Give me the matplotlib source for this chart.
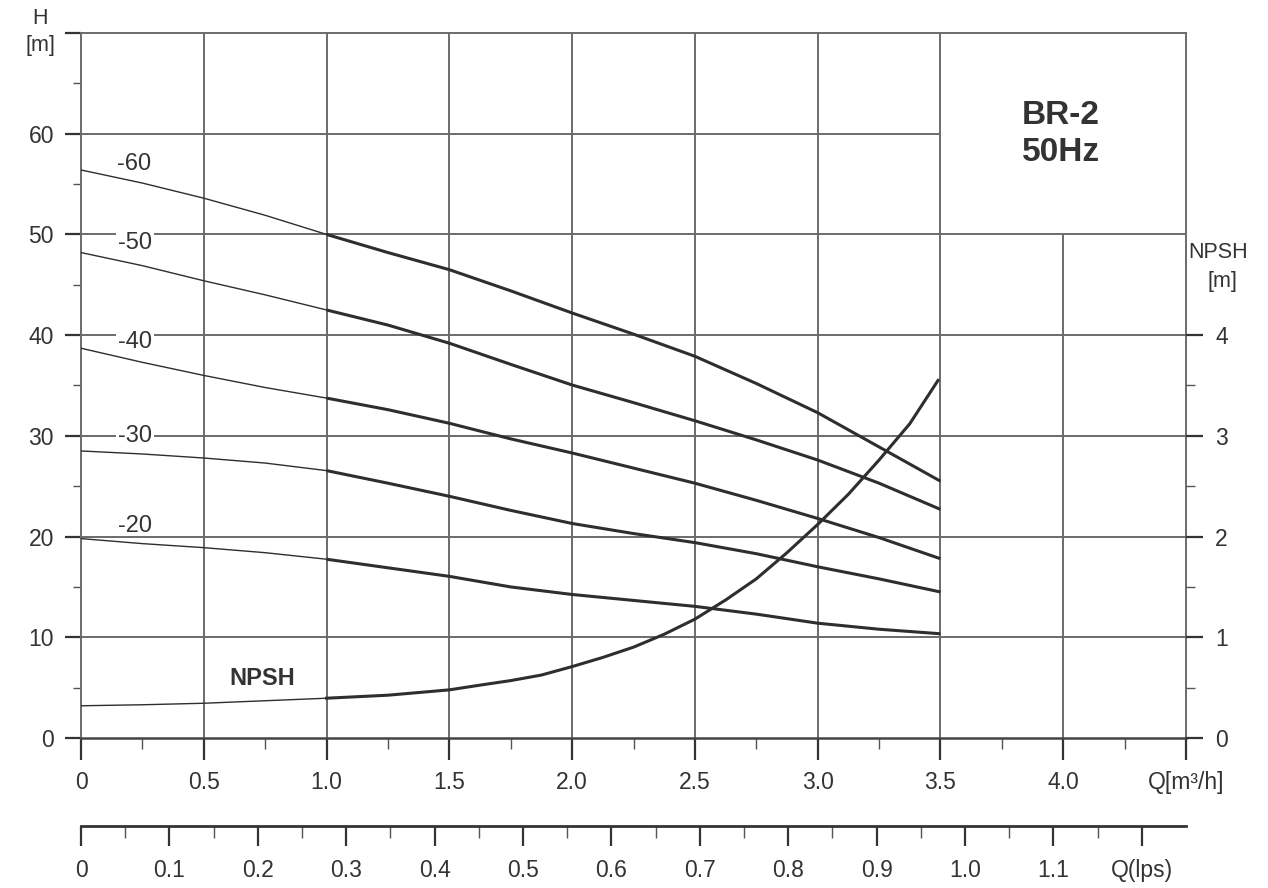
import numpy as np
import matplotlib
matplotlib.use('Agg')
import matplotlib.pyplot as plt

plt.rcParams['font.family'] = ['Liberation Sans', 'DejaVu Sans']

TXT = '#333333'
GRID = '#6b6b6b'
CURVE = '#2e2e2e'

# flow points (m3/h) where the head curves were read
q_m3h = [0, 0.25, 0.5, 0.75, 1.0, 1.25, 1.5, 1.75, 2.0, 2.25, 2.5, 2.75, 3.0, 3.25, 3.5]

# head (m) per model
head_60 = [56.4, 55.1, 53.6, 51.9, 50.0, 48.2, 46.5, 44.4, 42.2, 40.1, 37.9, 35.2, 32.3, 28.9, 25.5]
head_50 = [48.2, 46.9, 45.4, 44.0, 42.5, 41.0, 39.2, 37.1, 35.05, 33.3, 31.5, 29.6, 27.6, 25.3, 22.7]
head_40 = [38.7, 37.3, 36.0, 34.8, 33.75, 32.6, 31.25, 29.7, 28.3, 26.8, 25.3, 23.6, 21.8, 19.9, 17.8]
head_30 = [28.5, 28.2, 27.8, 27.3, 26.55, 25.3, 24.0, 22.6, 21.3, 20.3, 19.4, 18.3, 17.0, 15.8, 14.5]
head_20 = [19.8, 19.3, 18.9, 18.4, 17.75, 16.9, 16.05, 15.0, 14.25, 13.66, 13.07, 12.3, 11.4, 10.8, 10.35]

models = ['-60', '-50', '-40', '-30', '-20']
heads = [head_60, head_50, head_40, head_30, head_20]
label_pos = [(0.147, 57.0), (0.15, 49.1), (0.15, 39.3), (0.15, 30.0), (0.15, 21.0)]

# NPSH curve (m)
q_npsh = [0, 0.25, 0.5, 0.75, 1.0, 1.25, 1.5, 1.625, 1.75, 1.875, 2.0, 2.125, 2.25,
          2.375, 2.5, 2.625, 2.75, 2.875, 3.0, 3.125, 3.25, 3.375, 3.49]
npsh = [0.32, 0.33, 0.345, 0.37, 0.395, 0.425, 0.478, 0.525, 0.57, 0.625, 0.709, 0.80, 0.902,
        1.03, 1.18, 1.37, 1.58, 1.84, 2.12, 2.42, 2.76, 3.12, 3.55]

q_ticks = [0, 0.5, 1.0, 1.5, 2.0, 2.5, 3.0, 3.5, 4.0, 4.5]
q_ticklabels = ['0', '0.5', '1.0', '1.5', '2.0', '2.5', '3.0', '3.5', '4.0', 'Q[m³/h]']
lps_ticks = [0, 0.1, 0.2, 0.3, 0.4, 0.5, 0.6, 0.7, 0.8, 0.9, 1.0, 1.1, 1.2]
lps_ticklabels = ['0', '0.1', '0.2', '0.3', '0.4', '0.5', '0.6', '0.7', '0.8', '0.9', '1.0', '1.1', 'Q(lps)']

W, H = 1268, 888
fig = plt.figure(figsize=(W / 100, H / 100), dpi=100)
L, R = 81 / W, 1186 / W
ax = fig.add_axes([L, 1 - 738 / H, R - L, (738 - 33) / H])
ax.set_xlim(0, 4.5)
ax.set_ylim(0, 70)

# grid, drawn by hand because the lines stop short around the title box
ax.vlines([0.5, 1.0, 1.5, 2.0, 2.5, 3.0, 3.5], 0, 70, color=GRID, lw=1.4, zorder=1)
ax.vlines([4.0], 0, 50, color=GRID, lw=1.4, zorder=1)
ax.hlines([10, 20, 30, 40, 50], 0, 4.5, color=GRID, lw=1.4, zorder=1)
ax.hlines([60], 0, 3.5, color=GRID, lw=1.4, zorder=1)

for s in ax.spines.values():
    s.set_color(GRID)
    s.set_linewidth(1.4)
ax.spines['bottom'].set_color('#444444')
ax.spines['bottom'].set_linewidth(1.8)

ax.set_yticks(range(0, 71, 10))
ax.set_yticklabels(['0', '10', '20', '30', '40', '50', '60', ''])
ax.set_yticks(range(5, 70, 10), minor=True)
ax.set_xticks(q_ticks)
ax.set_xticklabels(q_ticklabels)
ax.set_xticks(np.arange(0.25, 4.5, 0.5), minor=True)
ax.tick_params(axis='y', which='major', length=11.5, width=1.6, color='#333333',
               labelsize=16.5, labelcolor=TXT, pad=8)
ax.tick_params(axis='y', which='minor', length=6, width=1.0, color='#555555')
ax.tick_params(axis='x', which='major', length=16, width=1.6, color='#333333',
               labelsize=16.5, labelcolor=TXT, pad=8)
ax.tick_params(axis='x', which='minor', length=8, width=1.0, color='#555555')

q = np.array(q_m3h)
for name, h, (tx, ty) in zip(models, heads, label_pos):
    h = np.array(h)
    lo = q <= 1.0
    hi = q >= 1.0
    ax.plot(q[lo], h[lo], color=CURVE, lw=1.0, zorder=3)
    ax.plot(q[hi], h[hi], color=CURVE, lw=2.2, zorder=3, solid_capstyle='butt')
    box = None
    if name in ('-50', '-40', '-30'):
        box = dict(facecolor='white', edgecolor='none', pad=1.5)
    ax.text(tx, ty, name, fontsize=17, color=TXT, ha='left', va='center', bbox=box, zorder=4)

ax.text(0.74, 5.9, 'NPSH', fontsize=17, fontweight='bold', color=TXT, ha='center', va='center')
ax.text(3.99, 61.8, 'BR-2', fontsize=24, fontweight='bold', color=TXT, ha='center', va='center')
ax.text(3.99, 58.1, '50Hz', fontsize=24, fontweight='bold', color=TXT, ha='center', va='center')

# NPSH scale on the right
axr = ax.twinx()
axr.set_ylim(0, 7)
for s in axr.spines.values():
    s.set_visible(False)
axr.set_yticks([0, 1, 2, 3, 4])
axr.set_yticks([0.5, 1.5, 2.5, 3.5], minor=True)
axr.tick_params(axis='y', which='major', length=12, width=1.6, color='#333333',
                labelsize=16.5, labelcolor=TXT, pad=9)
axr.tick_params(axis='y', which='minor', length=6.5, width=1.0, color='#555555')
qn = np.array(q_npsh)
nv = np.array(npsh)
axr.plot(qn[qn <= 1.0], nv[qn <= 1.0], color=CURVE, lw=1.0, zorder=3)
axr.plot(qn[qn >= 1.0], nv[qn >= 1.0], color=CURVE, lw=2.2, zorder=3)

fig.text(40 / W, 1 - 18 / H, 'H', fontsize=15.5, color=TXT, ha='center', va='center')
fig.text(40 / W, 1 - 45 / H, '[m]', fontsize=15.5, color=TXT, ha='center', va='center')
fig.text(1218 / W, 1 - 252 / H, 'NPSH', fontsize=15.5, color=TXT, ha='center', va='center')
fig.text(1222 / W, 1 - 281 / H, '[m]', fontsize=15.5, color=TXT, ha='center', va='center')

# second flow scale in litres per second
axq = fig.add_axes([L, 1 - 826 / H, R - L, 0.02])
axq.patch.set_visible(False)
axq.set_xlim(0, 4.5 / 3.6)
for k in ('top', 'left', 'right'):
    axq.spines[k].set_visible(False)
axq.spines['bottom'].set_color('#333333')
axq.spines['bottom'].set_linewidth(2.0)
axq.set_yticks([])
axq.set_xticks(lps_ticks)
axq.set_xticklabels(lps_ticklabels)
axq.set_xticks(np.arange(0.05, 1.2, 0.1), minor=True)
axq.tick_params(axis='x', which='major', length=14.5, width=1.6, color='#333333',
                labelsize=16.5, labelcolor=TXT, pad=9)
axq.tick_params(axis='x', which='minor', length=8.5, width=1.0, color='#555555')

fig.savefig('out.png', dpi=100, facecolor='white')
